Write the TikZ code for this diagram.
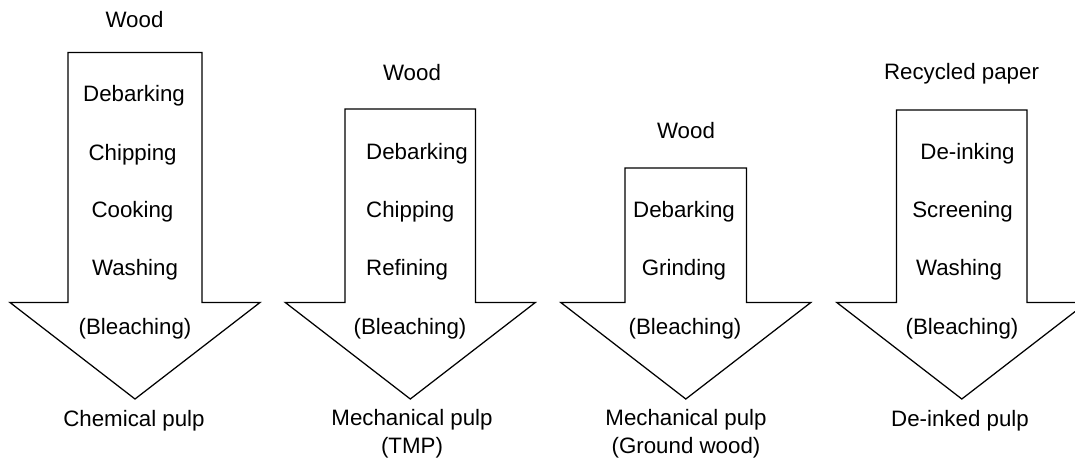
\documentclass[tikz,border=0pt]{standalone}
\usepackage{fontspec}
\setmainfont{Liberation Sans}
\newcommand\pulparrow[5]{% center x, shaft half-width, head half-width, top y, name
  \draw[arrowline] (#1-#2,#4) -- (#1+#2,#4) -- (#1+#2,302.5) -- (#1+#3,302.5)
    -- (#1,399) -- (#1-#3,302.5) -- (#1-#2,302.5) -- cycle;
  \coordinate (#5) at (#1,399);
}
\tikzset{
  arrowline/.style={draw=black, line width=1.25pt, line join=miter, fill=white},
  lbl/.style={font=\fontsize{22.3}{28}\selectfont, inner sep=0pt, text=black},
  lbl2/.style={lbl, align=center}
}
\begin{document}
\begin{tikzpicture}[x=1pt,y=-1pt]
\useasboundingbox (0,0) rectangle (1075,461);
\clip (0,0) rectangle (1075,461);
\pulparrow{135}{67}{125}{52.5}{tipA}
\pulparrow{410.3}{65.3}{125}{109}{tipB}
\pulparrow{685.8}{60.8}{125}{168}{tipC}
\pulparrow{961.8}{65.2}{125}{110}{tipD}
% arrow 1
\node[lbl] (a0) at (134.5,20) {Wood};
\node[lbl] (a1) at (134,96) {Debarking};
\node[lbl] (a2) at (132.6,155) {Chipping};
\node[lbl] (a3) at (132.5,212) {Cooking};
\node[lbl] (a4) at (135,270) {Washing};
\node[lbl] (a5) at (135,329) {(Bleaching)};
\node[lbl] (a6) at (134,421) {Chemical pulp};
% arrow 2
\node[lbl] (b0) at (412,73) {Wood};
\node[lbl,anchor=west] (b1) at (366,154) {Debarking};
\node[lbl,anchor=west] (b2) at (366,212) {Chipping};
\node[lbl,anchor=west] (b3) at (366,270) {Refining};
\node[lbl] (b5) at (410,329) {(Bleaching)};
\node[lbl2,anchor=north] (b6) at (412,409) {Mechanical pulp\\(TMP)};
% arrow 3
\node[lbl] (c0) at (686,131) {Wood};
\node[lbl] (c1) at (684,212) {Debarking};
\node[lbl] (c2) at (684,270) {Grinding};
\node[lbl] (c5) at (685,329) {(Bleaching)};
\node[lbl2,anchor=north] (c6) at (686,409) {Mechanical pulp\\(Ground wood)};
% arrow 4
\node[lbl] (d0) at (961.5,74) {Recycled paper};
\node[lbl] (d1) at (967.5,154) {De-inking};
\node[lbl] (d2) at (962.5,212) {Screening};
\node[lbl] (d3) at (959,270) {Washing};
\node[lbl] (d5) at (962,329) {(Bleaching)};
\node[lbl] (d6) at (960,421) {De-inked pulp};
\end{tikzpicture}
\end{document}
